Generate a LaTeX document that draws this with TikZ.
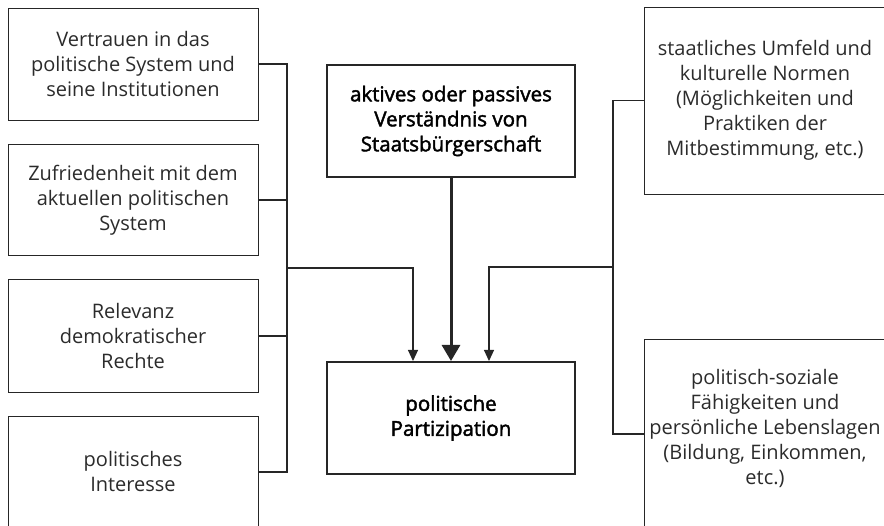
\documentclass[tikz,border=0pt]{standalone}
\usepackage{fontspec}
\setmainfont{Open Sans}
\newfontfamily\semib[FakeBold=2]{Open Sans}
\usetikzlibrary{arrows.meta,calc}
\definecolor{ink}{HTML}{262626}
\definecolor{txt}{HTML}{2B2B2B}
\begin{document}
\begin{tikzpicture}[x=1pt,y=-1pt,
  lbox/.style={draw=ink, line width=0.9pt, align=center, inner sep=0pt,
    text=txt, font=\fontsize{20}{25}\selectfont},
  cbox/.style={draw=ink, line width=2pt, align=center, inner sep=0pt,
    minimum width=248pt, minimum height=112pt,
    text=black, font=\semib\fontsize{20.5}{25}\selectfont},
  conn/.style={draw=ink, line width=1.1pt},
  sidearrow/.style={conn, -{Triangle[width=10pt,length=11pt]}},
  mainarrow/.style={draw=ink, line width=3pt, -{Triangle[width=18pt,length=16pt]}}
]
\useasboundingbox (0,0) rectangle (884,526);
\clip (0,0) rectangle (884,526);

% left boxes
\node[lbox, minimum width=250pt, minimum height=112pt] (b1) at (133,64)
  {Vertrauen in das\\politische System und\\seine Institutionen};
\node[lbox, minimum width=250pt, minimum height=111pt] (b2) at (133,200)
  {Zufriedenheit mit dem\\aktuellen politischen\\System};
\node[lbox, minimum width=250pt, minimum height=113pt] (b3) at (133,336)
  {Relevanz\\demokratischer\\Rechte};
\node[lbox, minimum width=250pt, minimum height=112pt] (b4) at (133,472)
  {politisches\\Interesse};

% centre boxes
\node[cbox] (pa) at (451,121)
  {aktives oder passives\\Verständnis von\\Staatsbürgerschaft};
\node[cbox] (pb) at (451,418)
  {politische\\Partizipation};

% right boxes
\node[lbox, minimum width=242pt, minimum height=187pt] (tr) at (765,100.5)
  {staatliches Umfeld und\\kulturelle Normen\\(Möglichkeiten und\\Praktiken der\\Mitbestimmung, etc.)};
\node[lbox, minimum width=242pt, minimum height=190pt] (br) at (765,434) {};
\node[align=center, inner sep=0pt, text=txt, font=\fontsize{20}{25}\selectfont] (brt) at (765,428)
  {politisch-soziale\\Fähigkeiten und\\persönliche Lebenslagen\\(Bildung, Einkommen,\\etc.)};

% left bus
\coordinate (L) at (287,0);
\coordinate (LJ) at (287,268);
\draw[conn] (b1.east) -- (b1.east -| L) -- (b4.east -| L) -- (b4.east);
\draw[conn] (b2.east) -- (b2.east -| L);
\draw[conn] (b3.east) -- (b3.east -| L);
\draw[sidearrow] (LJ) -| ($(pb.north)+(-38,0)$);

% right bus
\coordinate (R) at (613,0);
\coordinate (RJ) at (613,267);
\draw[conn] (tr.west) -- (tr.west -| R) -- (br.west -| R) -- (br.west);
\draw[sidearrow] (RJ) -| ($(pb.north)+(38,0)$);

% main arrow
\draw[mainarrow] (pa.south) -- (pb.north);
\end{tikzpicture}
\end{document}
